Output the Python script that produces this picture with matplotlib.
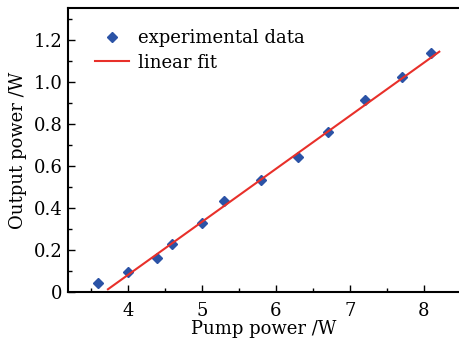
import matplotlib
matplotlib.use("Agg")
import matplotlib.pyplot as plt
from matplotlib.ticker import MultipleLocator, FixedLocator

pump_power = [3.6, 4.0, 4.4, 4.6, 5.0, 5.3, 5.8, 6.3, 6.7, 7.2, 7.7, 8.1]
output_power = [0.045, 0.097, 0.163, 0.230, 0.330, 0.432, 0.532, 0.641, 0.760, 0.913, 1.022, 1.137]
fit_x = [3.73, 8.21]
fit_y = [0.013, 1.144]
y_ticks = [0, 0.2, 0.4, 0.6, 0.8, 1.0, 1.2]
y_tick_labels = ["0", "0.2", "0.4", "0.6", "0.8", "1.0", "1.2"]
x_ticks = [4, 5, 6, 7, 8]

plt.rcParams['font.family'] = ['DejaVu Serif']

fig = plt.figure(figsize=(4.6, 3.43), dpi=100)
ax = fig.add_axes([68/460, 51/343, 1 - 68/460, 284/343])

ax.plot(pump_power, output_power, linestyle='none', marker='D', markersize=5.5,
        color='#2b53a6', label='experimental data')
ax.plot(fit_x, fit_y, color='#e8302a', linewidth=1.5, label='linear fit')

ax.set_xlim(3.19, 8.49)
ax.set_ylim(0, 1.352)
ax.xaxis.set_major_locator(FixedLocator(x_ticks))
ax.xaxis.set_minor_locator(MultipleLocator(0.5))
ax.set_yticks(y_ticks)
ax.set_yticklabels(y_tick_labels)
ax.yaxis.set_minor_locator(MultipleLocator(0.1))
ax.tick_params(which='both', direction='in', labelsize=13, width=1.0)
ax.tick_params(which='major', length=5)
ax.tick_params(which='minor', length=3)
ax.tick_params(axis='x', pad=7)
ax.tick_params(axis='y', pad=4)
ax.spines['right'].set_visible(False)
for s in ['left', 'bottom', 'top']:
    ax.spines[s].set_linewidth(1.5)

ax.set_xlabel('Pump power /W', fontsize=13, labelpad=0)
ax.set_ylabel('Output power /W', fontsize=13, labelpad=5)

ax.legend(loc='upper left', bbox_to_anchor=(0.05, 0.95), frameon=False,
          fontsize=13, handlelength=1.9, handletextpad=0.5, labelspacing=0.35,
          borderaxespad=0)

fig.savefig('out.png', dpi=100)
